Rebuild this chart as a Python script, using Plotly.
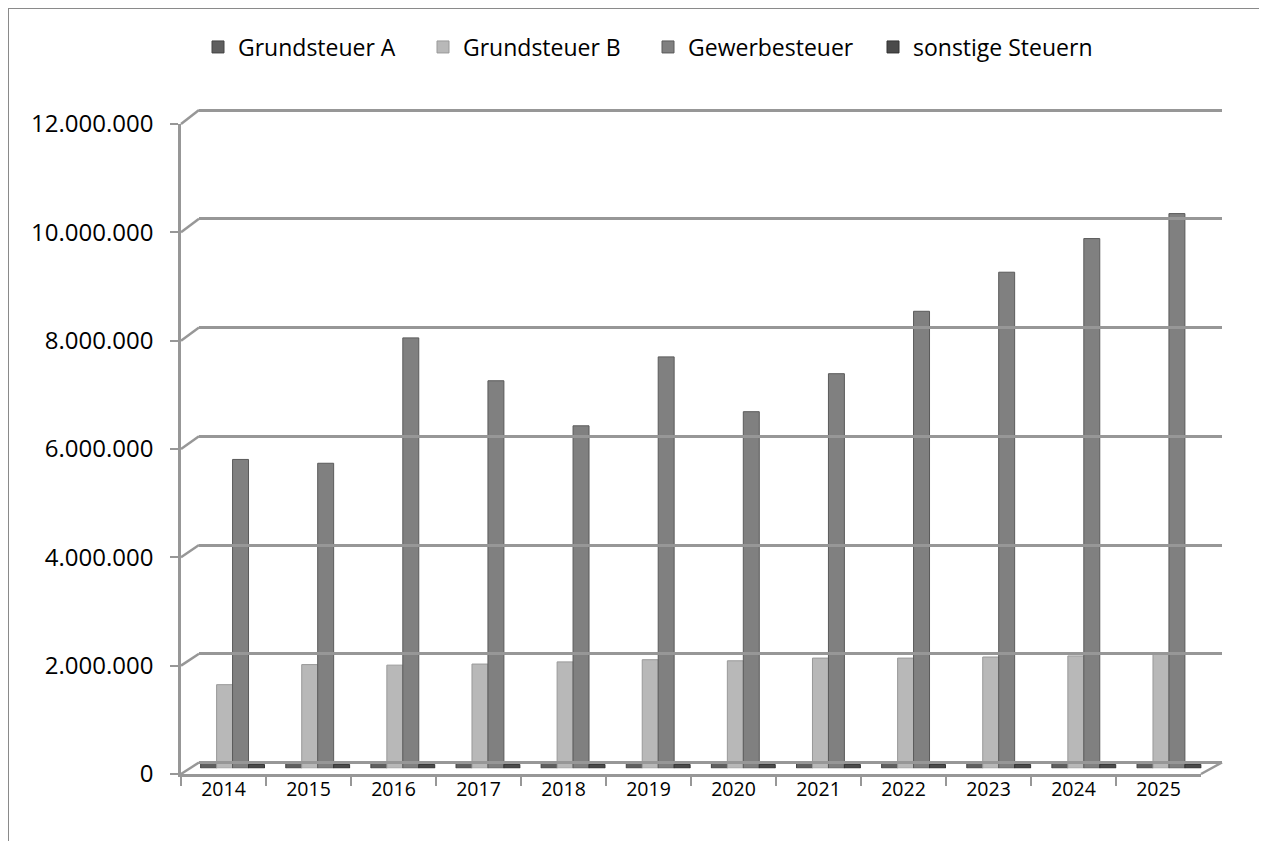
import plotly.graph_objects as go

years = ["2014", "2015", "2016", "2017", "2018", "2019",
         "2020", "2021", "2022", "2023", "2024", "2025"]
grundsteuer_a = [90000, 90000, 90000, 90000, 90000, 90000,
                 90000, 90000, 90000, 90000, 90000, 90000]
grundsteuer_b = [1540000, 1910000, 1900000, 1920000, 1960000, 2000000,
                 1980000, 2030000, 2030000, 2050000, 2070000, 2100000]
gewerbesteuer = [5690000, 5620000, 7930000, 7140000, 6310000, 7580000,
                 6570000, 7270000, 8420000, 9140000, 9760000, 10220000]
sonstige = [70000, 70000, 70000, 70000, 70000, 70000,
            70000, 70000, 70000, 70000, 70000, 70000]

series = [
    ("Grundsteuer A", grundsteuer_a, "#5f5f5f", "#444444"),
    ("Grundsteuer B", grundsteuer_b, "#b8b8b8", "#999999"),
    ("Gewerbesteuer", gewerbesteuer, "#808080", "#5a5a5a"),
    ("sonstige Steuern", sonstige, "#4a4a4a", "#333333"),
]

# page has an 8px body margin, so the figure fills the rest of the window
OFF = 8
W, H = 1267 - OFF, 841 - OFF
GRID = "#979797"
FONT = "Open Sans"


def fx(p):
    return (p - OFF) / W


def fy(p):
    return 1 - (p - OFF) / H


# pseudo-3d box (window pixels): front plane (axes), back wall (gridlines), middle (bars)
front = dict(l=181, r=1201, b=774, t=124)
back = dict(l=199, r=1222, b=762.5, t=110)
mid = {k: (front[k] + back[k]) / 2 for k in front}

fig = go.Figure()

for name, vals, color, edge in series:
    fig.add_trace(go.Bar(
        x=years, y=vals, name=name,
        marker=dict(color=color, line=dict(color=edge, width=1)),
        xaxis="x", yaxis="y",
    ))

# empty traces so the back wall and front axes get drawn
fig.add_trace(go.Scatter(x=[None], y=[None], xaxis="x2", yaxis="y2",
                         showlegend=False, hoverinfo="skip"))
fig.add_trace(go.Scatter(x=years, y=[None] * len(years), xaxis="x3", yaxis="y3",
                         showlegend=False, hoverinfo="skip"))

ymax = 12000000
dtick = 2000000
# back wall range a bit taller so the top gridline is not dropped at the edge
ymax_back = ymax * 1.02
back_top = back["b"] - (back["b"] - back["t"]) * ymax_back / ymax

# diagonals joining front axis ticks to back wall gridlines
shapes = []
for v in range(0, ymax + 1, dtick):
    yf = front["b"] + (front["t"] - front["b"]) * v / ymax
    yb = back["b"] + (back["t"] - back["b"]) * v / ymax
    shapes.append(dict(type="line", xref="paper", yref="paper",
                       x0=fx(front["l"]), y0=fy(yf), x1=fx(back["l"]), y1=fy(yb),
                       line=dict(color=GRID, width=2.5), layer="below"))
shapes.append(dict(type="line", xref="paper", yref="paper",
                   x0=fx(front["r"]), y0=fy(front["b"]), x1=fx(back["r"]), y1=fy(back["b"]),
                   line=dict(color=GRID, width=2.5), layer="below"))
# outer chart border
shapes.append(dict(type="rect", xref="paper", yref="paper",
                   x0=fx(8), y0=fy(8), x1=fx(1263), y1=fy(860),
                   line=dict(color="#8a8a8a", width=2), fillcolor="rgba(0,0,0,0)"))

hidden = dict(showgrid=False, zeroline=False, showticklabels=False, ticks="", showline=False)

fig.update_layout(
    width=W, height=H,
    margin=dict(l=0, r=0, t=0, b=0, autoexpand=False),
    paper_bgcolor="white", plot_bgcolor="rgba(0,0,0,0)",
    separators=",.",
    font=dict(family=FONT, size=22, color="#000000"),
    barmode="group", bargap=0.25, bargroupgap=0,
    xaxis=dict(domain=[fx(mid["l"]), fx(mid["r"])], type="category", **hidden),
    yaxis=dict(domain=[fy(mid["b"]), fy(mid["t"])], range=[0, ymax], **hidden),
    xaxis2=dict(domain=[fx(back["l"]), fx(back["r"])], range=[0, 1], anchor="y2",
                showgrid=False, zeroline=False, showticklabels=False, ticks=""),
    yaxis2=dict(domain=[fy(back["b"]), fy(back_top)], range=[0, ymax_back], anchor="x2",
                dtick=dtick, showgrid=True, gridcolor=GRID, gridwidth=2.5,
                zeroline=True, zerolinecolor=GRID, zerolinewidth=2.5,
                showticklabels=False, ticks=""),
    xaxis3=dict(domain=[fx(front["l"]), fx(front["r"])], anchor="y3", type="category",
                range=[-0.5, len(years) - 0.5],
                showgrid=False, zeroline=False, showline=True, linecolor=GRID, linewidth=2.5,
                ticks="outside", tickson="boundaries", ticklen=9, tickwidth=2, tickcolor=GRID,
                ticklabelstandoff=-4, tickfont=dict(size=19.5)),
    yaxis3=dict(domain=[fy(front["b"]), fy(front["t"])], anchor="x3", range=[0, ymax],
                dtick=dtick, tickformat=",d",
                showgrid=False, zeroline=False, showline=True, linecolor=GRID, linewidth=2.5,
                ticks="outside", ticklen=8, tickwidth=2, tickcolor=GRID,
                ticklabelstandoff=12, tickfont=dict(size=24)),
    legend=dict(orientation="h", x=fx(198), xanchor="left", y=fy(47), yanchor="middle",
                entrywidth=180, font=dict(size=23), bgcolor="rgba(0,0,0,0)"),
    shapes=shapes,
    showlegend=True,
)

fig.write_html("out.html")
